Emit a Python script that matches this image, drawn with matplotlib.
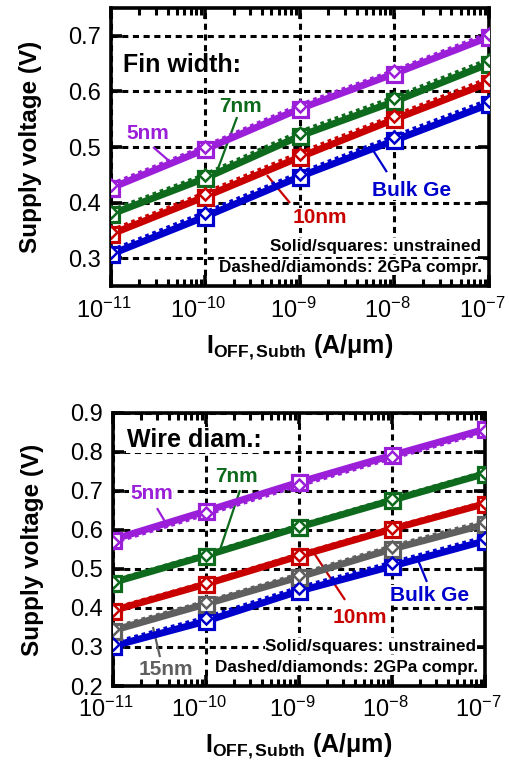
import matplotlib
matplotlib.use("Agg")
import matplotlib.pyplot as plt
from matplotlib.ticker import FixedLocator, NullFormatter, MultipleLocator, FuncFormatter
from matplotlib.transforms import ScaledTranslation
import numpy as np

plt.rcParams['font.family'] = ['Liberation Sans', 'DejaVu Sans']
plt.rcParams['mathtext.fontset'] = 'custom'
plt.rcParams['mathtext.rm'] = 'Liberation Sans'
plt.rcParams['mathtext.it'] = 'Liberation Sans:italic'
plt.rcParams['mathtext.bf'] = 'Liberation Sans:bold'
plt.rcParams['axes.unicode_minus'] = False

# ---------------- data ----------------
ioff = [1e-11, 1e-10, 1e-9, 1e-8, 1e-7]
xtick_exponents = [-11, -10, -9, -8, -7]

# Fin width panel
fin_5nm_unstr = [0.426, 0.496, 0.569, 0.632, 0.698]
fin_5nm_str = [0.431, 0.500, 0.574, 0.636, 0.703]
fin_7nm_unstr = [0.379, 0.444, 0.520, 0.582, 0.650]
fin_7nm_str = [0.384, 0.449, 0.526, 0.588, 0.656]
fin_10nm_unstr = [0.343, 0.411, 0.482, 0.550, 0.616]
fin_10nm_str = [0.348, 0.416, 0.488, 0.555, 0.622]
fin_bulk_unstr = [0.307, 0.375, 0.447, 0.512, 0.577]
fin_bulk_str = [0.312, 0.381, 0.452, 0.518, 0.583]

# Wire diameter panel
wire_5nm_unstr = [0.575, 0.648, 0.722, 0.791, 0.858]
wire_5nm_str = [0.570, 0.642, 0.716, 0.786, 0.853]
wire_7nm_unstr = [0.465, 0.534, 0.607, 0.676, 0.744]
wire_7nm_str = [0.467, 0.536, 0.609, 0.678, 0.746]
wire_10nm_unstr = [0.393, 0.461, 0.533, 0.602, 0.667]
wire_10nm_str = [0.396, 0.463, 0.535, 0.604, 0.669]
wire_15nm_unstr = [0.342, 0.410, 0.479, 0.551, 0.614]
wire_15nm_str = [0.347, 0.414, 0.484, 0.556, 0.620]
wire_bulk_unstr = [0.302, 0.366, 0.443, 0.507, 0.572]
wire_bulk_str = [0.308, 0.373, 0.450, 0.514, 0.579]

C_PURPLE = '#9B1FD9'
C_GREEN = '#0E6A1C'
C_RED = '#C80000'
C_GRAY = '#5F5F5F'
C_BLUE = '#0000CC'

fig = plt.figure(figsize=(5.10, 7.63), dpi=100)
ax1 = fig.add_axes([0.217, 0.625, 0.742, 0.3645])
ax2 = fig.add_axes([0.221, 0.1009, 0.730, 0.3581])


def draw_series(ax, unstr, strn, color):
    ax.plot(ioff, unstr, color=color, lw=5.0, solid_capstyle='butt', zorder=6)
    ax.plot(ioff, strn, color=color, lw=4.2, linestyle=(0, (0.65, 0.65)),
            dash_capstyle='butt', zorder=6)
    ax.plot(ioff, unstr, linestyle='none', marker='s', ms=10.8, mfc='white',
            mec=color, mew=2.3, zorder=7)
    ax.plot(ioff, strn, linestyle='none', marker='D', ms=6.2, mfc='white',
            mec=color, mew=1.8, zorder=8)


def style_axes(ax, ylo, yhi):
    ax.set_xscale('log')
    ax.set_xlim(1e-11, 1e-7)
    ax.set_ylim(ylo, yhi)
    ax.yaxis.set_major_locator(MultipleLocator(0.1))
    ax.xaxis.set_major_locator(FixedLocator(ioff))
    minors = [m * 10.0 ** e for e in xtick_exponents[:-1] for m in range(2, 10)]
    ax.xaxis.set_minor_locator(FixedLocator(minors))
    ax.xaxis.set_minor_formatter(NullFormatter())
    ax.xaxis.set_major_formatter(FuncFormatter(
        lambda v, p: r'$\mathregular{10^{%d}}$' % int(round(np.log10(v)))))
    ax.yaxis.set_major_formatter(FuncFormatter(lambda v, p: f"{v:.1f}"))
    ax.tick_params(axis='both', which='major', direction='in', length=8, width=2.6,
                   top=True, right=True, labelsize=17, pad=7)
    ax.tick_params(axis='x', which='major', pad=8)
    ax.tick_params(axis='x', which='minor', direction='in', length=5, width=2.2,
                   top=True, bottom=True)
    ax.tick_params(axis='y', which='minor', left=False, right=False)
    for s in ax.spines.values():
        s.set_linewidth(2.6)
    ax.set_axisbelow(True)
    ax.grid(True, which='major', color='black', lw=2.2, linestyle=(0, (2.0, 1.5)))
    ax.set_ylabel('Supply voltage (V)', fontsize=17.5, fontweight='bold', labelpad=19)
    ax.set_xlabel(r'$\mathbf{I}_{\mathbf{OFF,Subth}}$ (A/μm)', fontsize=18,
                  fontweight='bold', labelpad=7)
    shift = ScaledTranslation(-5 / 72, 0, fig.dpi_scale_trans)
    for t in ax.xaxis.get_major_ticks():
        t.label1.set_transform(t.label1.get_transform() + shift)


def label(ax, text, xy, color, size=15, ha='center', va='center'):
    ax.text(xy[0], xy[1], text, transform=ax.transAxes, color=color, fontsize=size,
            fontweight='bold', ha=ha, va=va, zorder=4,
            bbox=dict(facecolor='white', edgecolor='none', pad=0.5))


def leader(ax, p0, p1, color):
    ax.plot([p0[0], p1[0]], [p0[1], p1[1]], transform=ax.transAxes, color=color,
            lw=1.6, zorder=5, solid_capstyle='butt')


# ---------------- top panel ----------------
style_axes(ax1, 0.25, 0.75)
draw_series(ax1, fin_bulk_unstr, fin_bulk_str, C_BLUE)
draw_series(ax1, fin_10nm_unstr, fin_10nm_str, C_RED)
draw_series(ax1, fin_7nm_unstr, fin_7nm_str, C_GREEN)
draw_series(ax1, fin_5nm_unstr, fin_5nm_str, C_PURPLE)

label(ax1, 'Fin width:', (0.032, 0.795), 'black', size=18, ha='left')
label(ax1, '5nm', (0.099, 0.550), C_PURPLE)
leader(ax1, (0.112, 0.500), (0.152, 0.453), C_PURPLE)
label(ax1, '7nm', (0.342, 0.647), C_GREEN)
leader(ax1, (0.334, 0.608), (0.284, 0.424), C_GREEN)
label(ax1, '10nm', (0.553, 0.245), C_RED)
leader(ax1, (0.474, 0.299), (0.413, 0.399), C_RED)
label(ax1, 'Bulk Ge', (0.794, 0.345), C_BLUE)
leader(ax1, (0.730, 0.410), (0.693, 0.489), C_BLUE)
label(ax1, 'Solid/squares: unstrained', (0.978, 0.144), 'black', size=12.3, ha='right')
label(ax1, 'Dashed/diamonds: 2GPa compr.', (0.982, 0.068), 'black', size=12.3, ha='right')

# ---------------- bottom panel ----------------
style_axes(ax2, 0.2, 0.9)
draw_series(ax2, wire_bulk_unstr, wire_bulk_str, C_BLUE)
draw_series(ax2, wire_15nm_unstr, wire_15nm_str, C_GRAY)
draw_series(ax2, wire_10nm_unstr, wire_10nm_str, C_RED)
draw_series(ax2, wire_7nm_unstr, wire_7nm_str, C_GREEN)
draw_series(ax2, wire_5nm_unstr, wire_5nm_str, C_PURPLE)

label(ax2, 'Wire diam.:', (0.038, 0.900), 'black', size=18, ha='left')
label(ax2, '5nm', (0.104, 0.703), C_PURPLE)
leader(ax2, (0.119, 0.651), (0.149, 0.582), C_PURPLE)
label(ax2, '7nm', (0.332, 0.765), C_GREEN)
leader(ax2, (0.342, 0.717), (0.288, 0.498), C_GREEN)
label(ax2, '10nm', (0.663, 0.252), C_RED)
leader(ax2, (0.624, 0.315), (0.535, 0.498), C_RED)
label(ax2, 'Bulk Ge', (0.850, 0.333), C_BLUE)
leader(ax2, (0.844, 0.381), (0.820, 0.461), C_BLUE)
label(ax2, '15nm', (0.143, 0.062), C_GRAY)
leader(ax2, (0.127, 0.106), (0.108, 0.216), C_GRAY)
label(ax2, 'Solid/squares: unstrained', (0.977, 0.146), 'black', size=12.3, ha='right')
label(ax2, 'Dashed/diamonds: 2GPa compr.', (0.982, 0.069), 'black', size=12.3, ha='right')

fig.savefig('out.png', dpi=100)
